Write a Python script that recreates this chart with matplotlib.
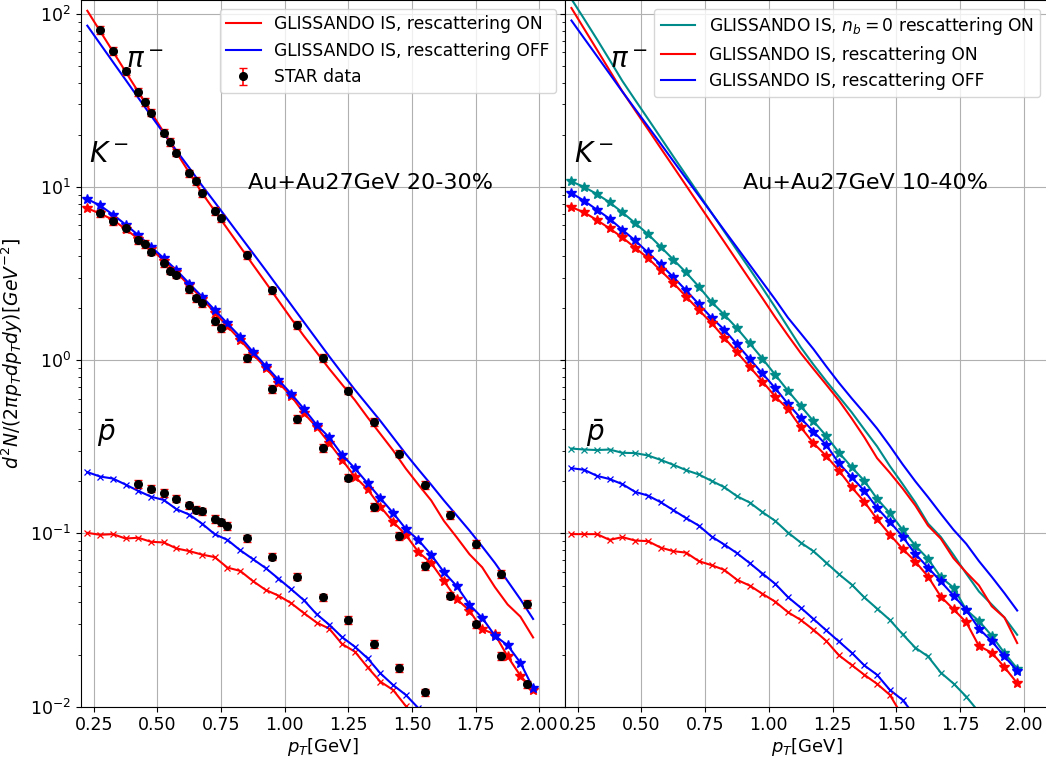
import numpy as np
import matplotlib
matplotlib.use('Agg')
import matplotlib.pyplot as plt

# model pT grid [GeV]
pt_model = [0.225, 0.275, 0.325, 0.375, 0.425, 0.475, 0.525, 0.575, 0.625, 0.675,
            0.725, 0.775, 0.825, 0.875, 0.925, 0.975, 1.025, 1.075, 1.125, 1.175,
            1.225, 1.275, 1.325, 1.375, 1.425, 1.475, 1.525, 1.575, 1.625, 1.675,
            1.725, 1.775, 1.825, 1.875, 1.925, 1.975]

# ---- left panel: 20-30% ----
pi_on_l = [104.0, 79.4, 60.7, 46.3, 35.4, 27.0, 20.7, 15.8, 12.1, 9.23, 7.28, 5.73,
           4.52, 3.56, 2.81, 2.21, 1.74, 1.38, 1.11, 0.891, 0.724, 0.589, 0.468, 0.376,
           0.302, 0.237, 0.191, 0.155, 0.118, 0.0950, 0.0759, 0.0638, 0.0490, 0.0389,
           0.0331, 0.0251]
pi_off_l = [85.3, 67.1, 52.8, 41.6, 32.7, 25.8, 20.4, 16.2, 12.9, 10.2, 8.17, 6.52,
            5.20, 4.15, 3.31, 2.63, 2.09, 1.66, 1.32, 1.05, 0.841, 0.676, 0.550, 0.447,
            0.359, 0.288, 0.234, 0.191, 0.155, 0.127, 0.104, 0.0841, 0.0676, 0.0531,
            0.0417, 0.0321]
k_on_l = [7.52, 7.03, 6.47, 5.71, 5.02, 4.38, 3.76, 3.21, 2.70, 2.27, 1.88, 1.57,
          1.31, 1.084, 0.904, 0.743, 0.622, 0.495, 0.411, 0.332, 0.266, 0.213, 0.180,
          0.143, 0.1167, 0.0982, 0.0780, 0.0674, 0.0531, 0.0418, 0.0359, 0.0280, 0.0262,
          0.0195, 0.0151, 0.0125]
k_off_l = [8.51, 7.82, 6.93, 6.07, 5.27, 4.52, 3.88, 3.31, 2.77, 2.33, 1.95, 1.63,
           1.365, 1.118, 0.929, 0.771, 0.640, 0.524, 0.424, 0.358, 0.284, 0.238, 0.195,
           0.160, 0.1315, 0.1064, 0.0915, 0.0752, 0.0598, 0.0497, 0.0388, 0.0326, 0.0257,
           0.0226, 0.01795, 0.0128]
pbar_on_l = [0.1008, 0.0982, 0.0991, 0.0935, 0.0944, 0.0895, 0.0887, 0.0819, 0.0791,
             0.0755, 0.0730, 0.0635, 0.0608, 0.0531, 0.0472, 0.0438, 0.0396, 0.0347,
             0.0306, 0.0282, 0.0230, 0.0208, 0.0169, 0.01396, 0.0125, 0.0101, 0.0086]
pbar_off_l = [0.226, 0.213, 0.2075, 0.1915, 0.176, 0.163, 0.156, 0.138, 0.1285, 0.114,
              0.0990, 0.0918, 0.0800, 0.0711, 0.0631, 0.0549, 0.0477, 0.0412, 0.0342,
              0.0297, 0.0252, 0.0222, 0.01905, 0.0156, 0.01335, 0.0117, 0.0098]

# STAR data
pt_pi_star = [0.275, 0.325, 0.375, 0.425, 0.45, 0.475, 0.525, 0.55, 0.575, 0.625, 0.65,
              0.675, 0.725, 0.75, 0.85, 0.95, 1.05, 1.15, 1.25, 1.35, 1.45, 1.55, 1.65,
              1.75, 1.85, 1.95]
pi_star = [80.8, 61.1, 46.4, 35.3, 30.9, 26.9, 20.6, 18.2, 15.8, 12.0, 10.8, 9.2, 7.29,
           6.58, 4.06, 2.53, 1.60, 1.03, 0.668, 0.440, 0.289, 0.191, 0.128, 0.0868,
           0.0582, 0.0392]
pt_k_star = pt_pi_star
k_star = [7.03, 6.38, 5.76, 4.96, 4.68, 4.24, 3.64, 3.29, 3.12, 2.57, 2.28, 2.13, 1.69,
          1.54, 1.03, 0.684, 0.459, 0.311, 0.210, 0.142, 0.0965, 0.0650, 0.0438, 0.0299,
          0.0197, 0.01346]
pt_p_star = [0.425, 0.475, 0.525, 0.575, 0.625, 0.65, 0.675, 0.725, 0.75, 0.775, 0.85,
             0.95, 1.05, 1.15, 1.25, 1.35, 1.45, 1.55]
p_star = [0.1926, 0.1816, 0.171, 0.159, 0.1456, 0.1374, 0.1339, 0.121, 0.1157, 0.1107,
          0.0935, 0.0736, 0.0564, 0.0427, 0.0317, 0.0230, 0.0167, 0.0121]
star_rel_err = 0.05

# ---- right panel: 10-40% ----
pi_nb0_r = [121.6, 93.3, 71.3, 54.1, 40.9, 31.8, 24.8, 19.3, 15.0, 11.7, 9.12, 7.10,
            5.53, 4.31, 3.36, 2.61, 2.02, 1.55, 1.19, 0.944, 0.759, 0.617, 0.501, 0.398,
            0.318, 0.245, 0.193, 0.151, 0.114, 0.0955, 0.0752, 0.0586, 0.0462, 0.0389,
            0.0327, 0.0260]
pi_on_r = [107.9, 81.8, 62.1, 47.0, 35.6, 27.7, 21.6, 16.8, 13.1, 10.2, 7.94, 6.18,
           4.82, 3.75, 2.92, 2.28, 1.77, 1.39, 1.10, 0.891, 0.724, 0.586, 0.462, 0.359,
           0.272, 0.224, 0.182, 0.145, 0.111, 0.0933, 0.0719, 0.0596, 0.0501, 0.0380,
           0.0327, 0.0233]
pi_off_r = [91.4, 72.1, 57.0, 45.0, 35.5, 28.2, 22.4, 17.8, 14.1, 11.2, 8.91, 7.08,
            5.62, 4.47, 3.55, 2.82, 2.24, 1.76, 1.43, 1.16, 0.923, 0.741, 0.603, 0.495,
            0.403, 0.320, 0.251, 0.200, 0.162, 0.130, 0.105, 0.0871, 0.0692, 0.0562,
            0.0452, 0.0359]
k_nb0_r = [10.76, 9.99, 9.10, 8.14, 7.13, 6.19, 5.35, 4.52, 3.81, 3.21, 2.66, 2.17,
           1.83, 1.53, 1.25, 1.02, 0.824, 0.666, 0.545, 0.445, 0.366, 0.293, 0.2414,
           0.2012, 0.1585, 0.131, 0.105, 0.0851, 0.0713, 0.0559, 0.0487, 0.0362, 0.0312,
           0.0257, 0.0204, 0.0166]
k_on_r = [7.65, 7.13, 6.44, 5.76, 5.11, 4.46, 3.89, 3.30, 2.79, 2.33, 1.95, 1.64,
          1.349, 1.111, 0.915, 0.753, 0.617, 0.522, 0.411, 0.332, 0.2805, 0.2307, 0.185,
          0.1522, 0.1209, 0.0985, 0.0815, 0.0688, 0.0564, 0.0432, 0.0365, 0.0307, 0.0224,
          0.0205, 0.0169, 0.01367]
k_off_r = [9.22, 8.32, 7.39, 6.55, 5.66, 4.91, 4.19, 3.57, 3.02, 2.53, 2.11, 1.76,
           1.50, 1.234, 1.016, 0.838, 0.690, 0.560, 0.463, 0.3876, 0.3247, 0.2545, 0.2113,
           0.1762, 0.1405, 0.1167, 0.0960, 0.0762, 0.0635, 0.0528, 0.0438, 0.0362, 0.0282,
           0.0239, 0.0195, 0.0161]
pbar_nb0_r = [0.309, 0.305, 0.303, 0.305, 0.292, 0.291, 0.282, 0.266, 0.249, 0.232,
              0.219, 0.2012, 0.185, 0.164, 0.1508, 0.1327, 0.1182, 0.1012, 0.0886, 0.0790,
              0.0679, 0.0582, 0.0507, 0.0427, 0.0368, 0.0317, 0.0262, 0.0219, 0.0195,
              0.01573, 0.0136, 0.01143, 0.0093]
pbar_on_r = [0.0991, 0.0991, 0.0991, 0.0918, 0.0952, 0.0910, 0.0903, 0.0829, 0.0790,
             0.0775, 0.0692, 0.0656, 0.0616, 0.0540, 0.0500, 0.0448, 0.0404, 0.0351,
             0.0317, 0.0278, 0.0240, 0.0198, 0.0174, 0.01527, 0.01354, 0.0117, 0.0088]
pbar_off_r = [0.238, 0.233, 0.215, 0.206, 0.1926, 0.1738, 0.1655, 0.1516, 0.1363,
              0.1226, 0.1110, 0.0960, 0.0863, 0.0769, 0.0674, 0.0587, 0.0512, 0.0429,
              0.0373, 0.0321, 0.0276, 0.0238, 0.0205, 0.0173, 0.01527, 0.0125, 0.01094,
              0.0088]

label_on = 'GLISSANDO IS, rescattering ON'
label_off = 'GLISSANDO IS, rescattering OFF'
label_nb0 = 'GLISSANDO IS, $n_b=0$ rescattering ON'
teal = 'darkcyan'


def curve(ax, y, color, marker=None, label=None):
    x = pt_model[:len(y)]
    if marker == '*':
        ax.plot(x, y, color=color, marker='*', markersize=7, linewidth=1.5, label=label)
    elif marker == 'x':
        ax.plot(x, y, color=color, marker='x', markersize=4.5, markeredgewidth=0.9,
                linewidth=1.5, label=label)
    else:
        ax.plot(x, y, color=color, linewidth=1.5, label=label)


def particle_labels(ax, x_pi, x_k, x_p):
    ax.text(x_pi, 54, r'$\pi^-$', fontsize=20, ha='center', va='center')
    ax.text(x_k, 15.4, r'$K^-$', fontsize=20, ha='center', va='center')
    ax.text(x_p, 0.38, r'$\bar{p}$', fontsize=20, ha='center', va='center')


def star_data(ax, x, y):
    y = np.array(y)
    ax.errorbar(x, y, yerr=star_rel_err * y, fmt='o', color='black', ecolor='red',
                markersize=5.5, capsize=3, elinewidth=1.2, label='STAR data')


fig = plt.figure(figsize=(10.46, 7.58), dpi=100)
ax1 = fig.add_axes([0.0774, 0.0677, 0.4627, 0.9323])
ax2 = fig.add_axes([0.5402, 0.0677, 0.4627, 0.9323], sharey=ax1)

# left panel
curve(ax1, pi_on_l, 'red', label=label_on)
curve(ax1, pi_off_l, 'blue', label=label_off)
curve(ax1, k_on_l, 'red', '*')
curve(ax1, k_off_l, 'blue', '*')
curve(ax1, pbar_on_l, 'red', 'x')
curve(ax1, pbar_off_l, 'blue', 'x')
star_data(ax1, pt_pi_star, pi_star)
star_data(ax1, pt_k_star, k_star)
star_data(ax1, pt_p_star, p_star)
particle_labels(ax1, 0.45, 0.31, 0.30)
ax1.text(0.855, 10.6, 'Au+Au27GeV 20-30%', fontsize=16, va='center')

handles, labels = ax1.get_legend_handles_labels()
ax1.legend(handles[:2] + handles[-1:], labels[:2] + labels[-1:], loc='upper right',
           fontsize=12.3)

# right panel
curve(ax2, pi_nb0_r, teal, label=label_nb0)
curve(ax2, pi_on_r, 'red', label=label_on)
curve(ax2, pi_off_r, 'blue', label=label_off)
curve(ax2, k_nb0_r, teal, '*')
curve(ax2, k_off_r, 'blue', '*')
curve(ax2, k_on_r, 'red', '*')
curve(ax2, pbar_nb0_r, teal, 'x')
curve(ax2, pbar_off_r, 'blue', 'x')
curve(ax2, pbar_on_r, 'red', 'x')
particle_labels(ax2, 0.45, 0.315, 0.32)
ax2.text(0.9, 10.6, 'Au+Au27GeV 10-40%', fontsize=16, va='center')
ax2.legend(loc='upper right', fontsize=12.3)

for ax in (ax1, ax2):
    ax.set_yscale('log')
    ax.set_xlim(0.2, 2.1)
    ax.set_xticks([0.25, 0.5, 0.75, 1.0, 1.25, 1.5, 1.75, 2.0])
    ax.grid(True)
    ax.tick_params(labelsize=12.5)
    ax.set_xlabel(r'$p_T$[GeV]', fontsize=13, labelpad=1)

ax1.set_ylim(0.01, 120)
ax1.set_ylabel(r'$d^2N/(2\pi p_T dp_T dy) [GeV^{-2}]$', fontsize=13.5, labelpad=4)
plt.setp(ax2.get_yticklabels(), visible=False)

fig.savefig('out.png', dpi=100)
